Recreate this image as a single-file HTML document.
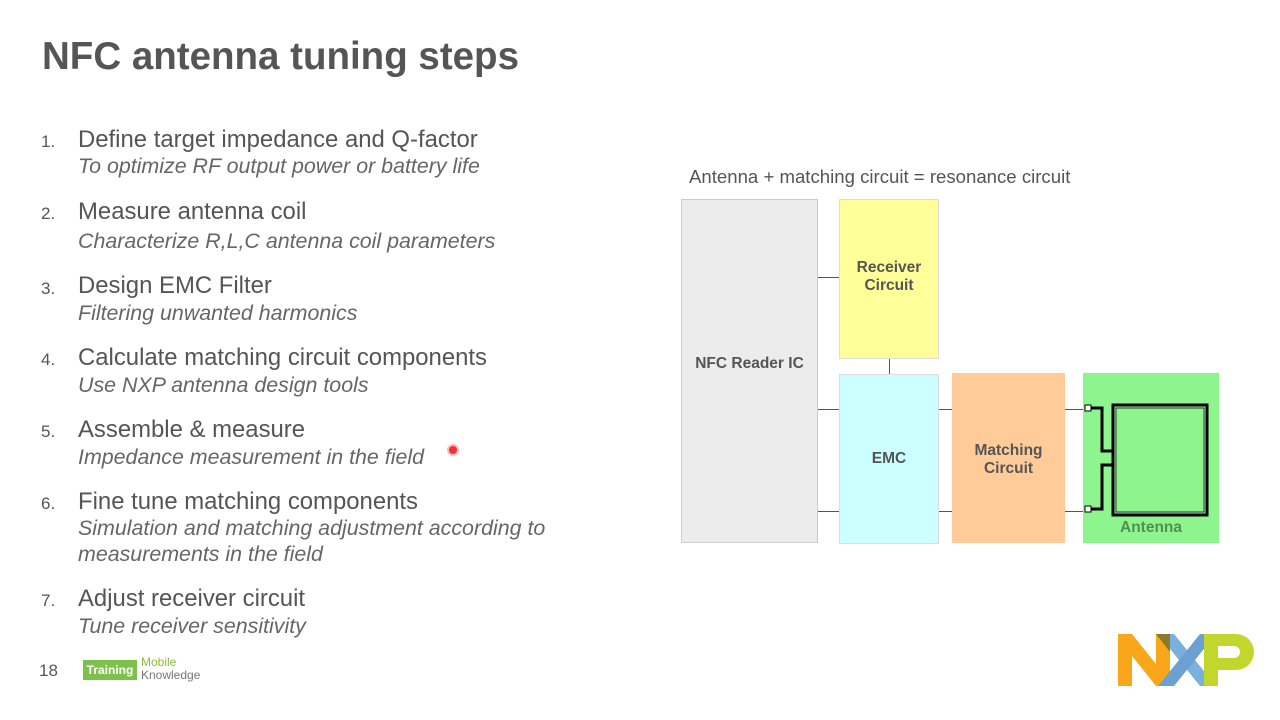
<!DOCTYPE html>
<html><head><style>
body{margin:0;width:1280px;height:720px;background:#fff;position:relative;overflow:hidden;font-family:"Liberation Sans",Arial,sans-serif}
.a{position:absolute;white-space:nowrap}
.t{left:42px;top:35px;font-size:38.5px;font-weight:bold;color:#555}
.n{left:41px;font-size:17px;color:#555}
.m{left:78px;font-size:23.9px;color:#555}
.s{left:78px;font-size:21.4px;color:#666;font-style:italic}
.box{position:absolute;box-sizing:border-box;display:flex;align-items:center;justify-content:center;text-align:center;font-weight:bold;font-size:15.5px;color:#555}
.ln{position:absolute;background:#555}
</style></head><body>
<div class="a t">NFC antenna tuning steps</div>
<div class="a n" style="top:132px">1.</div><div class="a m" style="top:126px">Define target impedance and Q-factor</div><div class="a s" style="top:154px">To optimize RF output power or battery life</div>
<div class="a n" style="top:204px">2.</div><div class="a m" style="top:198px">Measure antenna coil</div><div class="a s" style="top:229px">Characterize R,L,C antenna coil parameters</div>
<div class="a n" style="top:279px">3.</div><div class="a m" style="top:272px">Design EMC Filter</div><div class="a s" style="top:301px">Filtering unwanted harmonics</div>
<div class="a n" style="top:350px">4.</div><div class="a m" style="top:344px">Calculate matching circuit components</div><div class="a s" style="top:373px">Use NXP antenna design tools</div>
<div class="a n" style="top:422px">5.</div><div class="a m" style="top:416px">Assemble &amp; measure</div><div class="a s" style="top:445px">Impedance measurement in the field</div>
<div class="a n" style="top:494px">6.</div><div class="a m" style="top:488px">Fine tune matching components</div><div class="a s" style="top:516px">Simulation and matching adjustment according to</div><div class="a s" style="top:542px">measurements in the field</div>
<div class="a n" style="top:591px">7.</div><div class="a m" style="top:585px">Adjust receiver circuit</div><div class="a s" style="top:614px">Tune receiver sensitivity</div>
<div style="position:absolute;left:449px;top:446px;width:8px;height:8px;border-radius:50%;background:#e33;box-shadow:0 0 0 2px #fbb"></div>

<div class="a" style="left:689px;top:166px;font-size:18.6px;color:#555">Antenna + matching circuit = resonance circuit</div>
<div class="ln" style="left:818px;top:277px;width:21px;height:1px"></div>
<div class="ln" style="left:818px;top:409px;width:21px;height:1px"></div>
<div class="ln" style="left:818px;top:511px;width:21px;height:1px"></div>
<div class="ln" style="left:889px;top:359px;width:1px;height:15px"></div>
<div class="ln" style="left:939px;top:409px;width:13px;height:1px"></div>
<div class="ln" style="left:939px;top:511px;width:13px;height:1px"></div>
<div class="ln" style="left:1065px;top:409px;width:20px;height:1px"></div>
<div class="ln" style="left:1065px;top:511px;width:20px;height:1px"></div>
<div class="box" style="left:681px;top:199px;width:137px;height:344px;background:#ececec;border:1px solid #ccc;padding-bottom:14px">NFC Reader IC</div>
<div class="box" style="left:839px;top:199px;width:100px;height:160px;background:#ffff99;border:1px solid #ddd;padding-bottom:4px">Receiver<br>Circuit</div>
<div class="box" style="left:839px;top:374px;width:100px;height:170px;background:#ccffff;border:1px solid #ddd">EMC</div>
<div class="box" style="left:952px;top:373px;width:113px;height:170px;background:#ffcc99;padding-top:4px">Matching<br>Circuit</div>
<div class="box" style="left:1083px;top:373px;width:136px;height:170px;background:#8ef58e;align-items:flex-end;padding-bottom:6px;color:#4f8f4f">Antenna</div>
<svg style="position:absolute;left:1083px;top:373px" width="136" height="170">
<g fill="none" stroke="#000" stroke-width="3">
<rect x="30" y="32" width="94" height="110"/>
<rect x="33" y="35" width="88" height="104" stroke-width="1" stroke="#333"/>
<polyline points="6,35 19,35 19,78 30,78"/>
<polyline points="6,136 19,136 19,92 30,92"/>
</g>
<rect x="2" y="32" width="6" height="6" fill="#fff" stroke="#000"/>
<rect x="2" y="133" width="6" height="6" fill="#fff" stroke="#000"/>
</svg>

<div class="a" style="left:39px;top:661px;font-size:17px;color:#555">18</div>
<div class="a" style="left:83px;top:660px;width:54px;height:20px;background:#7cc24a;color:#fff;font-size:12px;font-weight:bold;text-align:center;line-height:20px">Training</div>
<div class="a" style="left:141px;top:656px;font-size:12px;color:#8dbb3c;line-height:13px">Mobile<br><span style="color:#777">Knowledge</span></div>
<svg style="position:absolute;left:1118px;top:634px" width="140" height="52">
<polygon points="0,0 14,0 38,30 38,0 52,0 52,52 38,52 14,22 14,52 0,52" fill="#f9a61a"/>
<polygon points="40,0 56,0 98,52 82,52" fill="#7ab0dd"/>
<polygon points="82,0 98,0 56,52 40,52" fill="#6ca0d0"/>
<polygon points="38,0 52,0 52,18" fill="#8a7a2a"/>
<path d="M86,0 H118 A18,18 0 0 1 118,36 H100 V52 H86 Z" fill="#c2d62e"/>
<path d="M100,12 H116 A6,6 0 0 1 116,24 H100 Z" fill="#fff"/>
</svg>
</body></html>
